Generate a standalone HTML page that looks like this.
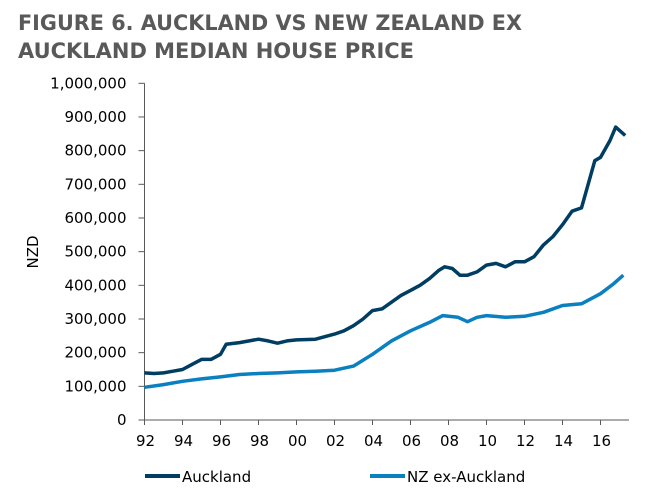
<!DOCTYPE html>
<html><head><meta charset="utf-8"><style>
html,body{margin:0;padding:0;background:#fff;}
svg{display:block;font-family:"DejaVu Sans","Liberation Sans",sans-serif;}
</style></head><body>
<svg id="chart" width="664" height="501" viewBox="0 0 664 501">
<text x="18" y="30" font-size="21" font-weight="bold" fill="#595959" textLength="504" lengthAdjust="spacingAndGlyphs">FIGURE 6. AUCKLAND VS NEW ZEALAND EX</text>
<text x="18" y="58" font-size="21" font-weight="bold" fill="#595959" textLength="396" lengthAdjust="spacingAndGlyphs">AUCKLAND MEDIAN HOUSE PRICE</text>
<text transform="translate(38,252) rotate(-90)" text-anchor="middle" font-size="15" fill="#000">NZD</text>
<g id="axes"></g>
<g id="series"></g>
<g>
<line x1="145" y1="476" x2="180" y2="476" stroke="#003d63" stroke-width="4"/>
<text x="182" y="482" font-size="15" fill="#000">Auckland</text>
<line x1="370" y1="476" x2="405" y2="476" stroke="#0a80c0" stroke-width="4"/>
<text x="407" y="482" font-size="15" fill="#000">NZ ex-Auckland</text>
</g>
</svg>
<script>
const yTicks = [0,100000,200000,300000,400000,500000,600000,700000,800000,900000,1000000];
const xTickYears = [1992,1994,1996,1998,2000,2002,2004,2006,2008,2010,2012,2014,2016];
const xTickLabels = ["92","94","96","98","00","02","04","06","08","10","12","14","16"];
const aklYears = [1992,1992.5,1993,1993.5,1994,1994.5,1995,1995.5,1996,1996.3,1997,1998,1998.5,1999,1999.5,2000,2001,2002,2002.5,2003,2003.5,2004,2004.5,2005,2005.5,2006,2006.5,2007,2007.5,2007.8,2008.2,2008.6,2009,2009.5,2010,2010.5,2011,2011.5,2012,2012.5,2013,2013.5,2014,2014.5,2015,2015.3,2015.7,2016,2016.5,2016.8,2017.0,2017.3];
const aklValues = [140000,138000,140000,145000,150000,165000,180000,180000,195000,225000,230000,240000,235000,228000,235000,238000,240000,255000,265000,280000,300000,325000,330000,350000,370000,385000,400000,420000,445000,455000,450000,430000,430000,440000,460000,465000,455000,470000,470000,485000,520000,545000,580000,620000,630000,690000,770000,780000,830000,870000,860000,845000];
const nzYears = [1992,1993,1994,1995,1996,1997,1998,1999,2000,2001,2002,2003,2004,2005,2006,2007,2007.7,2008.5,2009,2009.5,2010,2011,2012,2013,2014,2015,2016,2016.7,2017.2];
const nzValues = [97000,105000,115000,122000,128000,135000,138000,140000,143000,145000,148000,160000,195000,235000,265000,290000,310000,305000,292000,305000,310000,305000,308000,320000,340000,345000,375000,405000,430000];

const X0=144.5, PX_PER_YEAR=19, Y0=420, YTOP=83.3;
const xs = yr => X0 + (yr-1992)*PX_PER_YEAR;
const ys = v => Y0 - v/1000000*(Y0-YTOP);
const NS="http://www.w3.org/2000/svg";
const axes=document.getElementById('axes'), series=document.getElementById('series');
function mk(tag,attrs,parent){const e=document.createElementNS(NS,tag);for(const k in attrs)e.setAttribute(k,attrs[k]);parent.appendChild(e);return e;}

const yAxis=mk('line',{x1:X0,y1:YTOP,x2:X0,y2:Y0,stroke:'#595959','stroke-width':1},axes);


const xAxis=mk('line',{x1:X0,y1:Y0,x2:629,y2:Y0,stroke:'#595959','stroke-width':1},axes);



yTicks.forEach(v=>{
  const y=ys(v);
  const t=mk('line',{x1:X0-6,y1:y,x2:X0,y2:y,stroke:'#595959'},axes);
  
  
  const l=mk('text',{x:X0-18,y:y+5,'text-anchor':'end','font-size':15,fill:'#000'},axes);
  l.textContent=v.toLocaleString('en-US');
  
  
});
xTickYears.forEach((yr,i)=>{
  const x=xs(yr);
  const t=mk('line',{x1:x,y1:Y0,x2:x,y2:Y0+5,stroke:'#595959'},axes);
  
  
  const l=mk('text',{x:x+1,y:Y0+26,'text-anchor':'middle','font-size':15,fill:'#000'},axes);
  l.textContent=xTickLabels[i];
  
  
});
function drawLine(years,vals,color,name){
  const d=years.map((yr,i)=>(i?'L':'M')+xs(yr).toFixed(1)+','+ys(vals[i]).toFixed(1)).join(' ');
  const p=mk('path',{d:d,fill:'none',stroke:color,'stroke-width':3.5,'stroke-linejoin':'round'},series);
  
  
}
drawLine(nzYears,nzValues,'#0a80c0','line-nz-ex-auckland');
drawLine(aklYears,aklValues,'#003d63','line-auckland');
</script>
</body></html>
